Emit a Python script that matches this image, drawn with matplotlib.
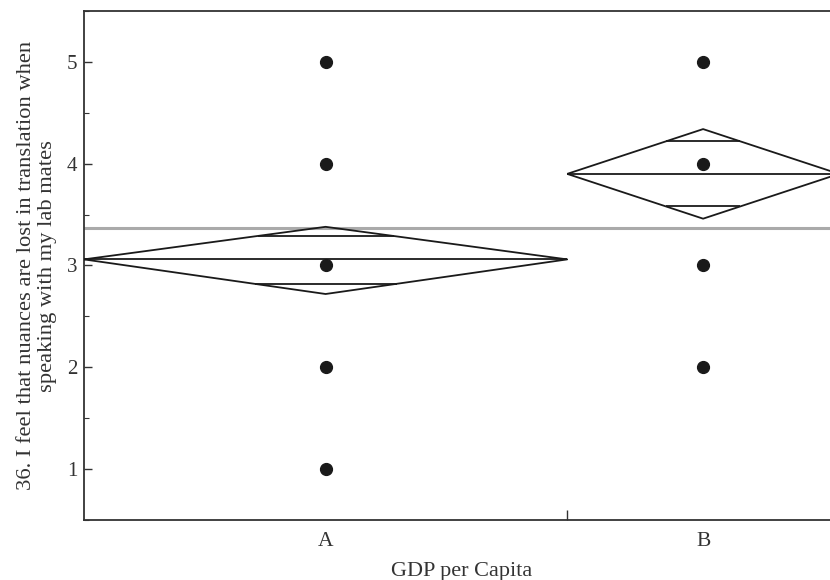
import matplotlib

matplotlib.use("Agg")
import matplotlib.pyplot as plt
from matplotlib.ticker import MultipleLocator

plt.rcParams["font.family"] = ["Liberation Serif", "DejaVu Serif"]

groups = ["A", "B"]
group_counts = [16, 9]
group_means = [3.06, 3.90]
ci_upper = [3.38, 4.34]
ci_lower = [2.72, 3.46]
overlap_upper = [3.29, 4.22]
overlap_lower = [2.82, 3.58]
group_points = [[1, 2, 3, 4, 5], [2, 3, 4, 5]]
grand_mean = 3.37

y_label = "36. I feel that nuances are lost in translation when\nspeaking with my lab mates"
x_label = "GDP per Capita"

ink = "#1a1a1a"
axis_col = "#333333"
line_kw = dict(color=ink, linewidth=1.3, solid_capstyle="butt")

fig = plt.figure(figsize=(8.3, 5.8), dpi=100)
ax = fig.add_axes([84 / 830, 60 / 580, 755 / 830, 509 / 580])

ax.axhline(grand_mean, color="#aaaaaa", linewidth=2.2, zorder=1)

left = 0.0
centers = []
for i, n in enumerate(group_counts):
    right = left + n
    mid = (left + right) / 2
    half = n / 2
    centers.append(mid)
    m, hi, lo = group_means[i], ci_upper[i], ci_lower[i]
    # diamond outline
    ax.plot([left, mid, right, mid, left], [m, hi, m, lo, m], **line_kw, zorder=3)
    # mean line across the full group width
    ax.plot([left, right], [m, m], **line_kw, zorder=3)
    # overlap marks, clipped to the diamond edges
    for yv, tip in ((overlap_upper[i], hi), (overlap_lower[i], lo)):
        w = half * (1 - (yv - m) / (tip - m))
        ax.plot([mid - w, mid + w], [yv, yv], **line_kw, zorder=3)
    ax.plot([mid] * len(group_points[i]), group_points[i], "o", color=ink,
            markersize=8.5, zorder=4)
    left = right

ax.set_xlim(0, sum(group_counts))
ax.set_ylim(0.5, 5.5)

ax.yaxis.set_major_locator(MultipleLocator(1))
ax.yaxis.set_minor_locator(MultipleLocator(0.5))
ax.tick_params(axis="y", which="major", direction="in", length=6, width=1,
               color=axis_col, labelsize=15, pad=5, labelcolor=axis_col)
ax.tick_params(axis="y", which="minor", direction="in", length=3.5, width=0.8,
               color=axis_col)

# group boundary tick on the x axis, categories labelled below
ax.set_xticks([group_counts[0]])
ax.set_xticklabels([""])
ax.tick_params(axis="x", direction="in", length=7, width=1, color=axis_col)
for c, g in zip(centers, groups):
    ax.text(c, -0.024, g, transform=ax.get_xaxis_transform(), ha="center", va="top",
            fontsize=15.5, color=axis_col)

for side in ("left", "bottom", "top"):
    ax.spines[side].set_color(axis_col)
    ax.spines[side].set_linewidth(1.3)
ax.spines["right"].set_visible(False)

ax.set_xlabel(x_label, fontsize=16, color=axis_col)
ax.xaxis.set_label_coords(0.5, -0.083)
ax.set_ylabel(y_label, fontsize=16.2, color=axis_col, linespacing=1.12)
ax.yaxis.set_label_coords(-0.036, 0.5)

fig.savefig("out.png", dpi=100)
